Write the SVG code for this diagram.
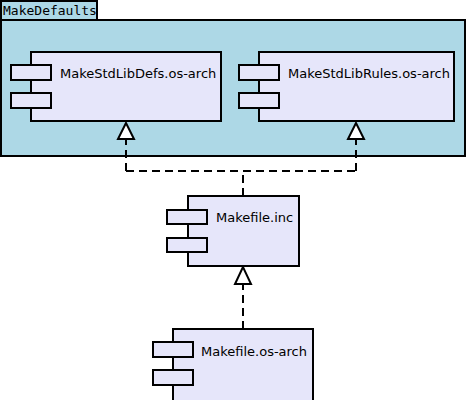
<svg xmlns="http://www.w3.org/2000/svg" width="466" height="400" viewBox="0 0 466 400">
<style>
.pkg{fill:#add8e6;stroke:#000;stroke-width:2}
.body{fill:#e6e6fa;stroke:#000;stroke-width:2}
.port{fill:#e6e6fa;stroke:#000;stroke-width:2}
.lbl{font-family:"DejaVu Sans",sans-serif;font-size:13px;fill:#000}
.mono{font-family:"DejaVu Sans Mono",monospace;font-size:13px;fill:#000}
.dash{fill:none;stroke:#000;stroke-width:2;stroke-dasharray:8,5}
.head{fill:#fff;stroke:#000;stroke-width:2;stroke-linejoin:miter}
</style>
<rect width="466" height="400" fill="#fff"/>
<g id="MakeDefaults">
<rect class="pkg" x="1" y="1" width="96" height="19"/>
<rect class="pkg" x="1" y="20" width="464" height="136"/>
<text class="mono" x="3" y="15">MakeDefaults</text>
</g>
<g id="MakeStdLibDefs">
<rect class="body" x="31" y="52" width="190" height="69"/>
<rect class="port" x="11" y="65" width="40" height="15"/>
<rect class="port" x="11" y="93" width="40" height="15"/>
<text class="lbl" x="60" y="78">MakeStdLibDefs.os-arch</text>
</g>
<g id="MakeStdLibRules">
<rect class="body" x="259" y="52" width="195" height="69"/>
<rect class="port" x="239" y="65" width="40" height="15"/>
<rect class="port" x="239" y="93" width="40" height="15"/>
<text class="lbl" x="288" y="78">MakeStdLibRules.os-arch</text>
</g>
<g id="Makefile.inc">
<rect class="body" x="188" y="196" width="111" height="70"/>
<rect class="port" x="167" y="210" width="40" height="14"/>
<rect class="port" x="167" y="238" width="40" height="14"/>
<text class="lbl" x="216" y="222">Makefile.inc</text>
</g>
<g id="Makefile.os-arch">
<rect class="body" x="173" y="329" width="140" height="72"/>
<rect class="port" x="153" y="342" width="40" height="15"/>
<rect class="port" x="153" y="370" width="40" height="15"/>
<text class="lbl" x="201" y="356">Makefile.os-arch</text>
</g>
<g id="connectors">
<path class="dash" d="M243,196 V171 M126,171 H356 M126,171 V138 M356,171 V138"/>
<polygon class="head" points="126,123 118,139 134,139"/>
<polygon class="head" points="356,123 348,139 364,139"/>
<path class="dash" d="M243,329 V284"/>
<polygon class="head" points="243,267 235,284 251,284"/>
</g>
</svg>
